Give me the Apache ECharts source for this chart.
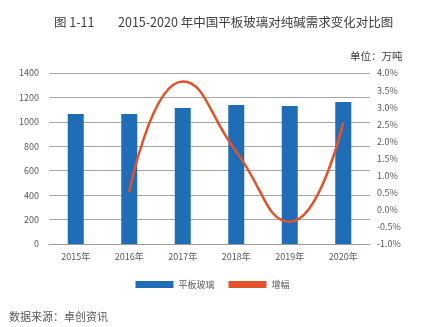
<!DOCTYPE html>
<html><head><meta charset="utf-8">
<script src="https://cdn.jsdelivr.net/npm/echarts@6/dist/echarts.min.js"></script>
<style>html,body{margin:0;padding:0;background:#fff}#c{width:425px;height:327px}</style>
</head><body><div id="c"></div>
<script>
const categories = ['2015年','2016年','2017年','2018年','2019年','2020年'];
const glassValues = [1065, 1065, 1113, 1138, 1130, 1163];
const growthValues = [null, 0.52, 3.75, 1.7, -0.35, 2.55];
const leftTicks = {min: 0, max: 1400, interval: 200};
const rightTicks = {min: -1, max: 4, interval: 0.5};

const FONT = '"Noto Sans CJK SC", "Noto Sans", sans-serif';
const chart = echarts.init(document.getElementById('c'), null, {renderer: 'canvas'});
chart.setOption({
  animation: false,
  textStyle: {fontFamily: FONT},
  title: [
    {text: '图 1-11', left: 49, top: 11, textStyle: {fontSize: 12.5, fontWeight: 'normal', color: '#404040', fontFamily: FONT}},
    {text: '2015-2020 年中国平板玻璃对纯碱需求变化对比图', left: 113, top: 11, textStyle: {fontSize: 12.5, fontWeight: 'normal', color: '#404040', fontFamily: FONT}},
    {text: '单位：万吨', left: 345, top: 46, textStyle: {fontSize: 10.5, fontWeight: 'normal', color: '#404040', fontFamily: FONT}},
    {text: '数据来源：卓创资讯', left: 4, top: 306, textStyle: {fontSize: 11, fontWeight: 'normal', color: '#595959', fontFamily: FONT}}
  ],
  legend: {
    bottom: 33, left: 'center', itemGap: 14, itemWidth: 38, itemHeight: 7, icon: 'rect',
    textStyle: {fontSize: 9, color: '#595959', fontFamily: FONT},
    data: ['平板玻璃', '增幅']
  },
  grid: {left: 49, right: 55, top: 73, bottom: 83},
  xAxis: {
    type: 'category', data: categories,
    axisLine: {lineStyle: {color: '#999', width: 1}},
    axisTick: {show: false},
    axisLabel: {fontSize: 9, color: '#595959', margin: 8, fontFamily: FONT}
  },
  yAxis: [
    {type: 'value', min: leftTicks.min, max: leftTicks.max, interval: leftTicks.interval,
     axisLine: {show: false}, axisTick: {show: false},
     axisLabel: {fontSize: 9, color: '#595959', margin: 10, fontFamily: FONT, formatter: v => String(v)},
     splitLine: {lineStyle: {color: '#a6a6a6', width: 1}}},
    {type: 'value', min: rightTicks.min, max: rightTicks.max, interval: rightTicks.interval,
     axisLine: {show: false}, axisTick: {show: false}, splitLine: {show: false},
     axisLabel: {fontSize: 9, color: '#595959', margin: 7, fontFamily: FONT,
       formatter: v => v.toFixed(1) + '%'}}
  ],
  series: [
    {name: '平板玻璃', type: 'bar', data: glassValues, barWidth: 16,
     itemStyle: {color: '#1F6DB6'}},
    {name: '增幅', type: 'line', yAxisIndex: 1, data: growthValues, smooth: 0.5,
     showSymbol: false, symbol: 'none', connectNulls: false,
     lineStyle: {color: '#E0532C', width: 2.5}, itemStyle: {color: '#E0532C'}}
  ]
});
</script></body></html>
